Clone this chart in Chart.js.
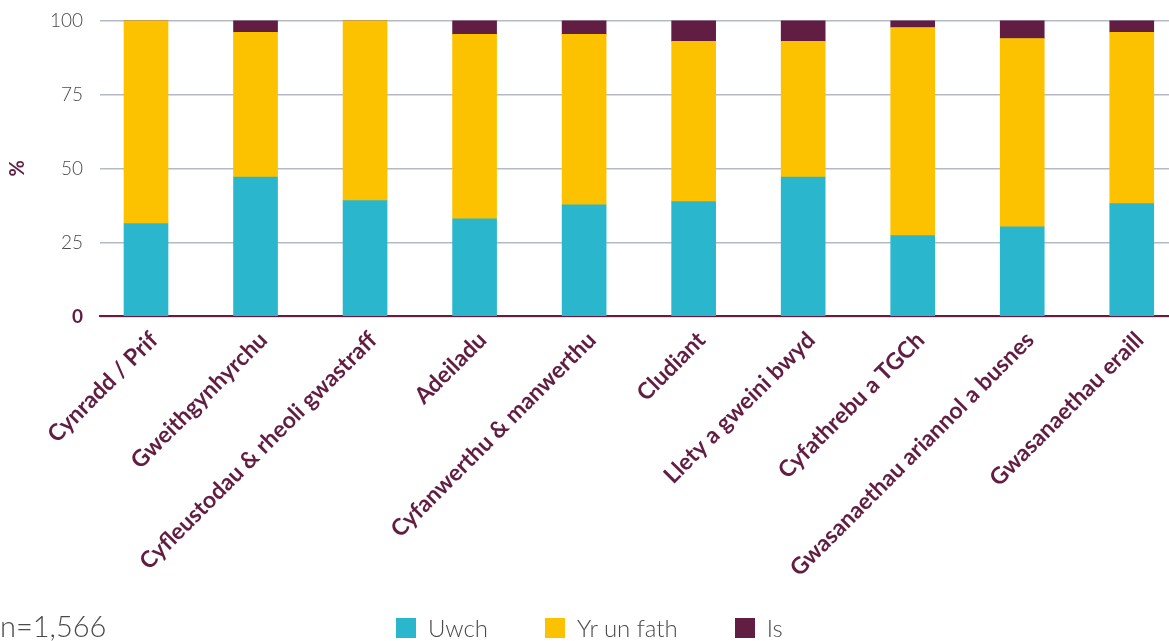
<!DOCTYPE html>
<html lang="cy">
<head>
<meta charset="utf-8">
<title>Uwch / Yr un fath / Is</title>
<script src="https://cdn.jsdelivr.net/npm/chart.js@4.4.0/dist/chart.umd.min.js"></script>
<style>
  html, body { margin: 0; padding: 0; background: #fff; }
  #wrap { position: relative; width: 1169px; height: 641px; overflow: hidden; font-family: 'Lato', 'Open Sans', sans-serif; }
  #chart-box { position: absolute; left: 0; top: 0; width: 1169px; height: 641px; }
  #n-note { position: absolute; left: 0; top: 608px; font-size: 29px; font-weight: 300; color: #4a4a4a; }
  #legend { position: absolute; left: 396px; top: 613px; display: flex; gap: 57px; font-size: 24px; font-weight: 300; color: #4a4a4a; }
  .lg-item { display: flex; align-items: center; gap: 12px; }
  .lg-box { width: 20px; height: 20px; }
</style>
</head>
<body>
<div id="wrap">
  <div id="chart-box"><canvas id="chart"></canvas></div>
  <div id="n-note">n=1,566</div>
  <div id="legend"></div>
</div>
<script>
/* ── Data ─────────────────────────────────────────────────────── */
const CATEGORIES = [
  'Cynradd / Prif', 'Gweithgynhyrchu', 'Cyfleustodau & rheoli gwastraff', 'Adeiladu',
  'Cyfanwerthu & manwerthu', 'Cludiant', 'Llety a gweini bwyd', 'Cyfathrebu a TGCh',
  'Gwasanaethau ariannol a busnes', 'Gwasanaethau eraill',
];
const UWCH      = [31.4, 47.1, 39.1, 33.0, 37.7, 38.8, 47.1, 27.3, 30.3, 38.1];
const UN_FATH   = [68.6, 48.9, 60.9, 62.3, 57.6, 54.1, 45.8, 70.3, 63.6, 57.9];
const IS        = [ 0.0,  4.0,  0.0,  4.7,  4.7,  7.1,  7.1,  2.4,  6.1,  4.0];
const Y_TICKS   = [0, 25, 50, 75, 100];

const SERIES = [
  { label: 'Uwch',       data: UWCH,    color: '#2ab7ce' },
  { label: 'Yr un fath', data: UN_FATH, color: '#fcc200' },
  { label: 'Is',         data: IS,      color: '#611e42' },
];

const PURPLE = '#611e42';

/* ── Legend (HTML) ────────────────────────────────────────────── */
document.getElementById('legend').innerHTML = SERIES.map(s =>
  `<div class="lg-item"><span class="lg-box" style="background:${s.color}"></span><span>${s.label}</span></div>`
).join('');

/* ── Chart ────────────────────────────────────────────────────── */
Chart.defaults.font.family = "'Lato', 'Open Sans', sans-serif";

new Chart(document.getElementById('chart'), {
  type: 'bar',
  data: {
    datasets: SERIES.map(s => ({
      label: s.label,
      data: CATEGORIES.map((_, i) => ({ x: i, y: s.data[i] })),
      backgroundColor: s.color,
      borderWidth: 0,
      barThickness: 44,
    })),
  },
  options: {
    responsive: true,
    maintainAspectRatio: false,
    animation: false,
    layout: { padding: { top: 1, left: 2, right: 0, bottom: 57 } },
    plugins: {
      legend: { display: false },
      tooltip: { enabled: false },
    },
    scales: {
      /* linear index axis so the first/last bars can sit off-centre like the original */
      x: {
        type: 'linear',
        bounds: 'data',
        offset: false,
        stacked: true,
        min: -0.42,
        max: 9.34,
        afterBuildTicks: scale => { scale.ticks = CATEGORIES.map((_, i) => ({ value: i })); },
        grid: { display: false, offset: false },
        border: { display: true, color: PURPLE, width: 2 },
        ticks: {
          autoSkip: false,
          minRotation: 45,
          maxRotation: 45,
          padding: 2,
          labelOffset: 8,
          color: PURPLE,
          font: { size: 23, weight: 'bold' },
          callback: v => CATEGORIES[v] || '',
        },
      },
      y: {
        stacked: true,
        min: 0,
        max: 100,
        afterFit: scale => { scale.width = 98; },
        afterBuildTicks: scale => { scale.ticks = Y_TICKS.map(v => ({ value: v })); },
        grid: { color: '#b3b9c5', lineWidth: 1.5, drawTicks: true, tickLength: 8, tickColor: 'rgba(0,0,0,0)' },
        border: { display: false },
        title: {
          display: true,
          text: '%',
          color: PURPLE,
          font: { size: 20, weight: 'bold' },
          padding: { top: 4, bottom: 4 },
        },
        ticks: {
          padding: 9,
          color: ctx => ctx.tick.value === 0 ? PURPLE : '#4a4a4a',
          font: ctx => ctx.tick && ctx.tick.value === 0
            ? { size: 19, weight: 'bold' }
            : { size: 19, weight: '300' },
        },
      },
    },
  },
});
</script>
</body>
</html>
